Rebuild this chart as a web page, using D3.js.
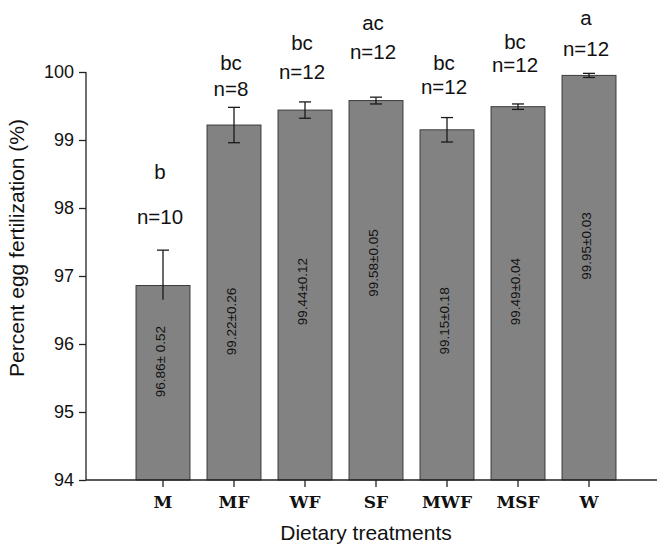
<!DOCTYPE html>
<html>
<head>
<meta charset="utf-8">
<script src="https://cdn.jsdelivr.net/npm/d3@7"></script>
<style>
  body { margin: 0; background: #fff; }
  text { font-family: "Liberation Sans", Arial, sans-serif; fill: #111; }
  .xtick text { font-family: "DejaVu Serif", serif; font-weight: bold; font-size: 17px; }
</style>
</head>
<body>
<div id="chart"></div>
<script>
const width = 657
const height = 547

// Data
const treatments = ["M", "MF", "WF", "SF", "MWF", "MSF", "W"]
const means = [96.86, 99.22, 99.44, 99.58, 99.15, 99.49, 99.95]
const errHigh = [0.52, 0.26, 0.12, 0.05, 0.18, 0.04, 0.03]
const errLow = [0.21, 0.26, 0.12, 0.05, 0.18, 0.04, 0.03]
const lowCap = [false, true, true, true, true, true, true]
const valueLabels = ["96.86± 0.52", "99.22±0.26", "99.44±0.12", "99.58±0.05", "99.15±0.18", "99.49±0.04", "99.95±0.03"]
const groupLetters = ["b", "bc", "bc", "ac", "bc", "bc", "a"]
const sampleSizes = ["n=10", "n=8", "n=12", "n=12", "n=12", "n=12", "n=12"]
const yTicks = [94, 95, 96, 97, 98, 99, 100]

// where the annotations sit, in axis units (as in the reference)
const letterLevel = [98.53, 100.13, 100.43, 100.72, 100.13, 100.44, 100.79]
const nLevel = [97.87, 99.75, 100.0, 100.29, 99.78, 100.10, 100.34]
const valueLevel = [95.74, 96.33, 96.77, 97.19, 96.34, 96.77, 97.44]

const data = treatments.map((t, i) => ({
  t: t, mean: means[i], hi: errHigh[i], lo: errLow[i], cap: lowCap[i],
  label: valueLabels[i], letter: groupLetters[i], n: sampleSizes[i],
  letterY: letterLevel[i], nY: nLevel[i], valueY: valueLevel[i]
}))

const axisX = 86
const svg = d3.select("#chart")
  .append("svg")
  .attr("width", width)
  .attr("height", height)

// Escalas
const x = d3.scaleBand()
  .domain(treatments)
  .range([127.5, 624.5])
  .paddingInner(0.24)
  .paddingOuter(0.12)
const y = d3.scaleLinear().domain([94, 100]).range([480, 72])

const cx = d => x(d.t) + x.bandwidth() / 2

// Bars
svg.append("g").selectAll("rect").data(data)
  .enter()
  .append("rect")
    .attr("x", d => x(d.t))
    .attr("y", d => y(d.mean))
    .attr("width", x.bandwidth())
    .attr("height", d => y(94) - y(d.mean))
    .attr("fill", "#828282")
    .attr("stroke", "#3c3c3c")
    .attr("stroke-width", 1)

// Error bars
const err = svg.append("g")
  .attr("stroke", "#1a1a1a")
  .attr("stroke-width", 1.3)
err.selectAll(".whisker").data(data)
  .enter().append("line")
    .attr("x1", cx).attr("x2", cx)
    .attr("y1", d => y(d.mean + d.hi))
    .attr("y2", d => y(d.mean - d.lo))
err.selectAll(".capTop").data(data)
  .enter().append("line")
    .attr("x1", d => cx(d) - 6).attr("x2", d => cx(d) + 6)
    .attr("y1", d => y(d.mean + d.hi))
    .attr("y2", d => y(d.mean + d.hi))
err.selectAll(".capBot").data(data.filter(d => d.cap))
  .enter().append("line")
    .attr("x1", d => cx(d) - 6).attr("x2", d => cx(d) + 6)
    .attr("y1", d => y(d.mean - d.lo))
    .attr("y2", d => y(d.mean - d.lo))

// Values inside bars
svg.append("g").selectAll("text").data(data)
  .enter().append("text")
    .attr("transform", d => `translate(${cx(d) + 1.5}, ${y(d.valueY)}) rotate(-90)`)
    .attr("text-anchor", "middle")
    .attr("font-size", "13.5px")
    .text(d => d.label)

// Letters and n
svg.append("g").selectAll("text").data(data)
  .enter().append("text")
    .attr("x", d => cx(d) - 3)
    .attr("y", d => y(d.letterY) + 7)
    .attr("text-anchor", "middle")
    .attr("font-size", "20.5px")
    .text(d => d.letter)
svg.append("g").selectAll("text").data(data)
  .enter().append("text")
    .attr("x", d => cx(d) - 3)
    .attr("y", d => y(d.nY) + 7)
    .attr("text-anchor", "middle")
    .attr("font-size", "20.5px")
    .text(d => d.n)

// Ejes
const yAxis = d3.axisLeft(y).tickValues(yTicks).tickFormat(d3.format("d")).tickSize(7).tickPadding(5)
const yAxisGroup = svg.append("g")
  .attr("transform", `translate(${axisX}, 0)`)
  .call(yAxis)
yAxisGroup.select(".domain").attr("d", `M0,${y(100)}V${y(94)}`)
yAxisGroup.selectAll("text").attr("font-size", "18px").attr("fill", "#111")

const xAxis = d3.axisBottom(x).tickSize(7).tickPadding(9)
const xAxisGroup = svg.append("g")
  .attr("class", "xtick")
  .attr("transform", `translate(0, ${y(94)})`)
  .call(xAxis)
xAxisGroup.select(".domain").attr("d", `M${axisX},0H${width}`)
xAxisGroup.selectAll("text").attr("fill", "#111")

svg.selectAll(".domain, .tick line").attr("stroke", "#222").attr("stroke-width", 1.3)

// Titulos
svg.append("text")
  .attr("x", 366)
  .attr("y", 540)
  .attr("text-anchor", "middle")
  .attr("font-size", "21px")
  .text("Dietary treatments")

svg.append("text")
  .attr("transform", `translate(24, 248) rotate(-90)`)
  .attr("text-anchor", "middle")
  .attr("font-size", "21px")
  .text("Percent egg fertilization (%)")
</script>
</body>
</html>
